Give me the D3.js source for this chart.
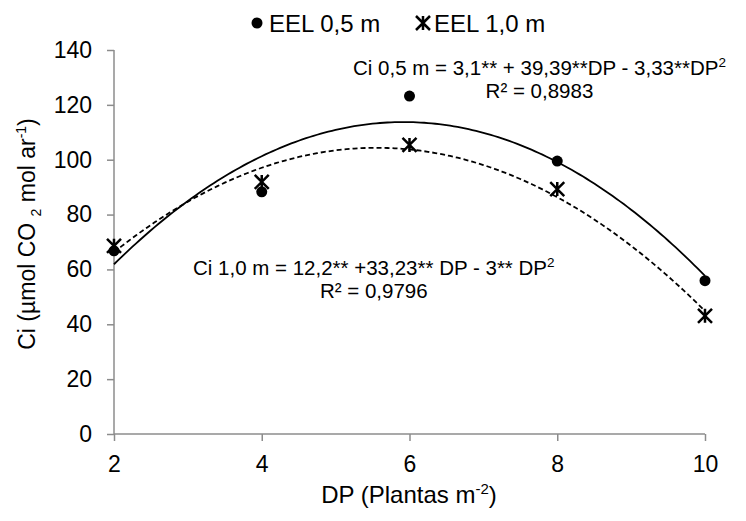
<!DOCTYPE html>
<html>
<head>
<meta charset="utf-8">
<script src="https://cdn.jsdelivr.net/npm/d3@7/dist/d3.min.js"></script>
<style>
  html, body { margin: 0; padding: 0; background: #fff; }
  svg { display: block; font-family: "Liberation Sans", Arial, sans-serif; }
</style>
</head>
<body>
<svg id="chart" width="746" height="521"></svg>
<script>
// Plant density (plants per m²)
const densities = [2, 4, 6, 8, 10];
// Internal CO2 concentration per row spacing
const ci05 = [66.8, 88.3, 123.2, 99.5, 55.9];
const ci10 = [68.6, 91.9, 105.4, 89.3, 43.1];
const seriesNames = ["EEL 0,5 m", "EEL 1,0 m"];
const xTicks = [2, 4, 6, 8, 10];
const yTicks = [0, 20, 40, 60, 80, 100, 120, 140];

const svg = d3.select("#chart");
const plotLeft = 114, plotRight = 705, plotTop = 50, plotBottom = 434;

const x = d3.scaleLinear().domain([2, 10]).range([plotLeft, plotRight]);
const y = d3.scaleLinear().domain([0, 140]).range([plotBottom, plotTop]);

const axisColor = "#8c8c8c";

// Axes
const xAxis = svg.append("g").attr("transform", `translate(0,${plotBottom})`)
  .call(d3.axisBottom(x).tickValues(xTicks).tickSize(7).tickSizeOuter(0).tickPadding(15));
const yAxis = svg.append("g").attr("transform", `translate(${plotLeft},0)`)
  .call(d3.axisLeft(y).tickValues(yTicks).tickSize(7).tickSizeOuter(0).tickPadding(15));
[xAxis, yAxis].forEach(g => {
  g.select(".domain").attr("stroke", axisColor).attr("stroke-width", 1.5);
  g.selectAll(".tick line").attr("stroke", axisColor).attr("stroke-width", 1.5);
  g.selectAll(".tick text").attr("fill", "#000").style("font-size", "23px")
    .style("font-family", "Liberation Sans, Arial, sans-serif");
});
xAxis.select(".domain").attr("d", `M${plotLeft},0H${plotRight}`);
yAxis.select(".domain").attr("d", `M0,${plotBottom}V${plotTop}`);

// Least-squares quadratic fit
function quadFit(xs, ys) {
  const s = [0, 0, 0, 0, 0], t = [0, 0, 0];
  xs.forEach((xi, i) => {
    for (let k = 0; k < 5; k++) s[k] += Math.pow(xi, k);
    for (let k = 0; k < 3; k++) t[k] += Math.pow(xi, k) * ys[i];
  });
  const A = [[s[0], s[1], s[2], t[0]], [s[1], s[2], s[3], t[1]], [s[2], s[3], s[4], t[2]]];
  for (let i = 0; i < 3; i++) {
    for (let j = i + 1; j < 3; j++) {
      const f = A[j][i] / A[i][i];
      for (let k = i; k < 4; k++) A[j][k] -= f * A[i][k];
    }
  }
  const c = [0, 0, 0];
  for (let i = 2; i >= 0; i--) {
    let v = A[i][3];
    for (let k = i + 1; k < 3; k++) v -= A[i][k] * c[k];
    c[i] = v / A[i][i];
  }
  return xv => c[0] + c[1] * xv + c[2] * xv * xv;
}

const grid = d3.range(2, 10.001, 0.05);
const line = d3.line().x(d => x(d[0])).y(d => y(d[1]));
const f05 = quadFit(densities, ci05);
const f10 = quadFit(densities, ci10);

svg.append("path").attr("d", line(grid.map(v => [v, f05(v)])))
  .attr("fill", "none").attr("stroke", "#000").attr("stroke-width", 1.8);
svg.append("path").attr("d", line(grid.map(v => [v, f10(v)])))
  .attr("fill", "none").attr("stroke", "#000").attr("stroke-width", 1.8)
  .attr("stroke-dasharray", "5,3");

// Markers
function star(g, cx, cy, r) {
  g.append("path")
    .attr("d", `M${cx - r},${cy - r}L${cx + r},${cy + r}M${cx - r},${cy + r}L${cx + r},${cy - r}M${cx},${cy - r}V${cy + r}`)
    .attr("stroke", "#000").attr("stroke-width", 2.5).attr("fill", "none");
}
svg.append("g").selectAll("circle").data(densities).join("circle")
  .attr("cx", d => x(d)).attr("cy", (d, i) => y(ci05[i])).attr("r", 5.5).attr("fill", "#000");
const starG = svg.append("g");
densities.forEach((d, i) => star(starG, x(d), y(ci10[i]), 7));

// Legend
const leg = svg.append("g").style("font-size", "24px");
leg.append("circle").attr("cx", 257).attr("cy", 23).attr("r", 5.5).attr("fill", "#000");
leg.append("text").attr("x", 269).attr("y", 32).text(seriesNames[0]);
star(leg, 423, 23, 7);
leg.append("text").attr("x", 434).attr("y", 32).text(seriesNames[1]);

// Regression equations, each with its R² centred beneath
function equation(x0, yBase, main, r2) {
  const t = svg.append("text").attr("x", x0).attr("y", yBase).style("font-size", "20.5px");
  t.append("tspan").text(main);
  t.append("tspan").attr("dy", -8).style("font-size", "13.5px").text("2");
  const w = t.node().getComputedTextLength();
  svg.append("text").attr("x", x0 + w / 2).attr("y", yBase + 23).attr("text-anchor", "middle")
    .style("font-size", "20.5px").text(r2);
}
equation(353, 75, "Ci 0,5 m = 3,1** + 39,39**DP  - 3,33**DP", "R² = 0,8983");
equation(193, 275, "Ci 1,0 m = 12,2** +33,23** DP - 3** DP", "R² = 0,9796");

// Axis titles
const xt = svg.append("text").attr("x", 409).attr("y", 503).attr("text-anchor", "middle")
  .style("font-size", "24px");
xt.append("tspan").text("DP (Plantas m");
xt.append("tspan").attr("dy", -9).style("font-size", "15px").text("-2");
xt.append("tspan").attr("dy", 9).text(")");

const yt = svg.append("text").attr("transform", "translate(35,234) rotate(-90)")
  .attr("text-anchor", "middle").style("font-size", "23px");
yt.append("tspan").text("Ci (µmol CO ");
yt.append("tspan").attr("dy", 6).style("font-size", "14px").text("2");
yt.append("tspan").attr("dy", -6).text(" mol ar");
yt.append("tspan").attr("dy", -9).style("font-size", "14px").text("-1");
yt.append("tspan").attr("dy", 9).text(")");
</script>
</body>
</html>
